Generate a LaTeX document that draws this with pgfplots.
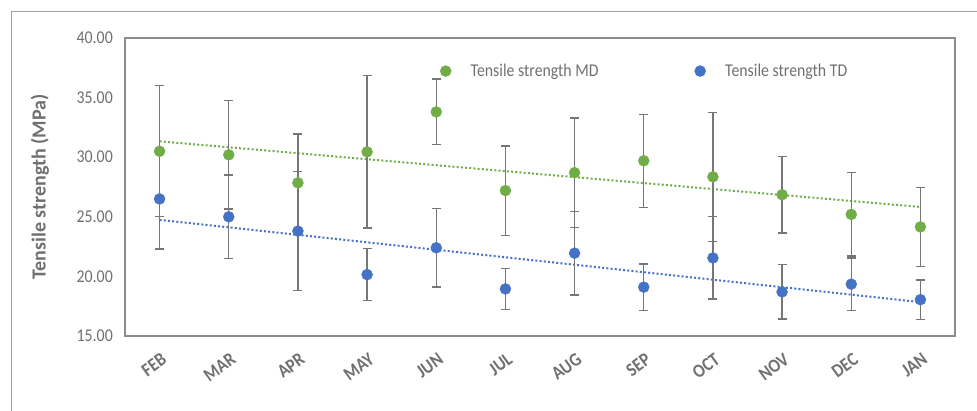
\documentclass[border=0pt]{standalone}
\usepackage{pgfplots}
\pgfplotsset{compat=1.18}
\usepackage{pgfplotstable}
\usepackage{fontspec}
\setmainfont{Carlito}[FakeStretch=0.88]
\newfontfamily\ylabfont{Carlito}
\definecolor{mdgreen}{RGB}{112,173,71}
\definecolor{tdblue}{RGB}{68,114,196}
\definecolor{textgray}{RGB}{112,112,112}
\definecolor{boxgray}{RGB}{140,140,140}
\definecolor{errgray}{RGB}{118,118,118}
\definecolor{framegray}{RGB}{160,160,160}

\pgfplotstableread{
x md mde td tde
0 30.5 5.5 26.5 4.2
1 30.2 4.55 25.0 3.5
2 27.85 4.1 23.8 5.0
3 30.45 6.4 20.15 2.2
4 33.8 2.75 22.4 3.3
5 27.2 3.75 18.95 1.7
6 28.7 4.6 21.95 3.5
7 29.7 3.9 19.1 1.95
8 28.35 5.4 21.55 3.45
9 26.85 3.2 18.7 2.27
10 25.2 3.5 19.35 2.2
11 24.15 3.3 18.05 1.65
}\datatable

\begin{document}
\begin{tikzpicture}
\path[use as bounding box] (-125bp,-75bp) rectangle (852bp,336bp);
\draw[framegray, line width=0.8bp] (-114bp,-75bp) -- (-114bp,325bp) -- (852bp,325bp);
\begin{axis}[
  at={(0,0)}, anchor=south west,
  scale only axis, width=830bp, height=298bp,
  xmin=-0.5, xmax=11.5, ymin=15, ymax=40,
  xtick={0,...,11},
  xticklabels={FEB,MAR,APR,MAY,JUN,JUL,AUG,SEP,OCT,NOV,DEC,JAN},
  ytick={15,20,25,30,35,40},
  /pgf/number format/fixed,
  /pgf/number format/fixed zerofill,
  /pgf/number format/precision=2,
  /pgf/number format/assume math mode=true,
  tick label style={font=\fontsize{18bp}{20bp}\selectfont, text=textgray},
  yticklabel style={anchor=east, inner sep=0pt, xshift=-12bp},
  xticklabel style={font=\bfseries\fontsize{19bp}{21bp}\selectfont, anchor=north east, inner sep=0pt, xshift=1bp, yshift=-16bp, rotate=36},
  ylabel={Tensile strength (MPa)},
  ylabel style={font=\ylabfont\bfseries\fontsize{20bp}{22bp}\selectfont, text=textgray, at={(axis description cs:-0.1024,0.5)}, anchor=center},
  axis line style={draw=boxgray, line width=1.3bp},
  major tick length=0pt,
  legend columns=2,
  legend style={draw=none, fill=none, inner sep=0pt, at={(0.3795,0.889)}, anchor=west,
    font=\fontsize{18bp}{20bp}\selectfont, text=textgray,
    nodes={inner sep=1bp},
    /tikz/every even column/.append style={column sep=95bp}},
  legend image code/.code={\path[draw=none, fill=none] (-5bp,-5bp) rectangle (24bp,5bp); \draw[#1] plot coordinates {(0bp,0bp)};},
]
\addplot[mdgreen, line width=2bp, dash pattern=on 2bp off 2.2bp, forget plot]
  table[x=x, y={create col/linear regression={y=md}}] {\datatable};
\addplot[tdblue, line width=2bp, dash pattern=on 2bp off 2.2bp, forget plot]
  table[x=x, y={create col/linear regression={y=td}}] {\datatable};
\addplot[only marks, mark=*, mark size=5.5bp, mark options={draw=mdgreen, fill=mdgreen},
  error bars/.cd, y dir=both, y explicit,
  error bar style={errgray, line width=1.3bp},
  error mark options={errgray, rotate=90, mark size=4.5bp, line width=1.3bp}]
  table[x=x, y=md, y error=mde] {\datatable};
\addlegendentry{Tensile strength MD}
\addplot[only marks, mark=*, mark size=5.5bp, mark options={draw=tdblue, fill=tdblue},
  error bars/.cd, y dir=both, y explicit,
  error bar style={errgray, line width=1.3bp},
  error mark options={errgray, rotate=90, mark size=4.5bp, line width=1.3bp}]
  table[x=x, y=td, y error=tde] {\datatable};
\addlegendentry{Tensile strength TD}
\end{axis}
\end{tikzpicture}
\end{document}
